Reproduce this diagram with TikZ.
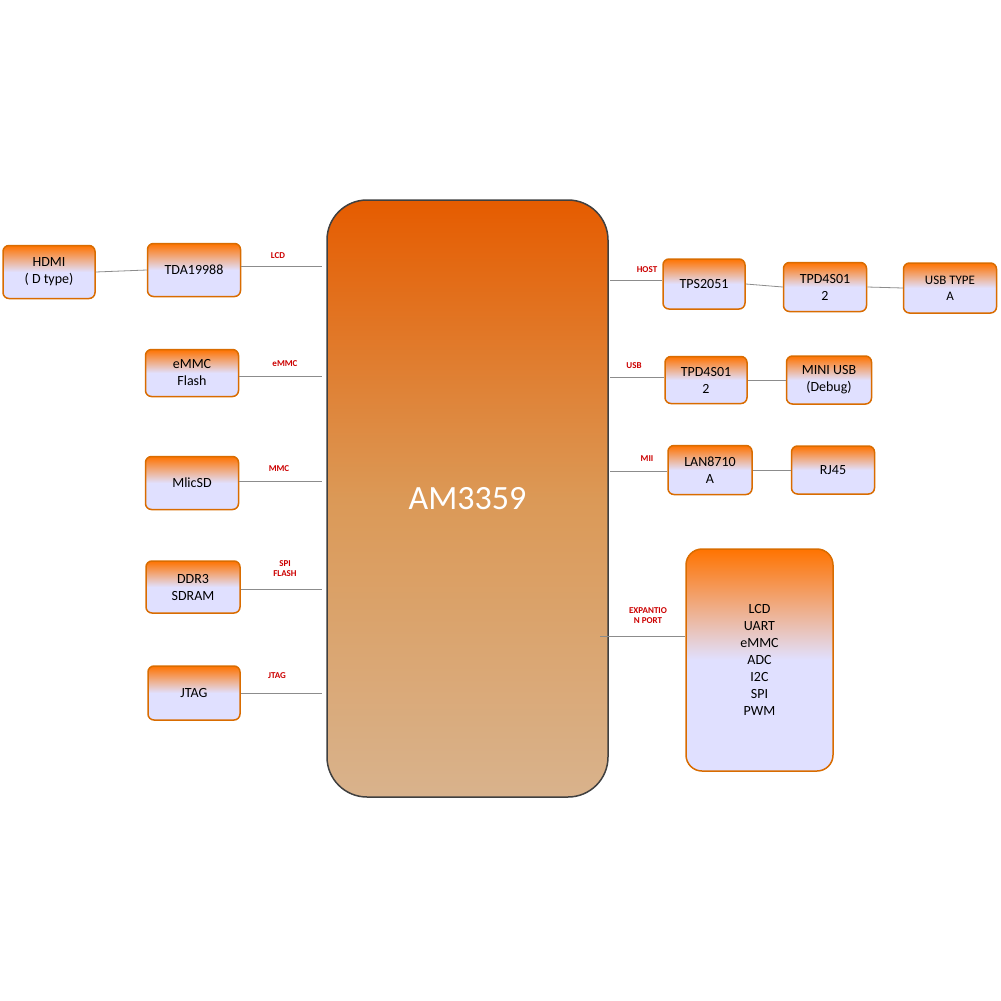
\documentclass[tikz,border=0pt]{standalone}
\usepackage{fontspec}
\setmainfont{Carlito}
\begin{document}
\begin{tikzpicture}[x=1pt,y=-1pt,
 box/.style={draw=orange!85!black,line width=1.5pt,rounded corners=6pt,top color=orange!90!red,bottom color=blue!12!white,middle color=blue!12!white,align=center,font=\fontsize{14}{17}\selectfont,inner sep=0pt},
 lnk/.style={draw=black!45,line width=0.8pt},
 lab/.style={text=red!80!black,font=\bfseries\fontsize{9}{10}\selectfont,align=center}]
\useasboundingbox (0,0) rectangle (1001,1001);
\fill[white] (0,0) rectangle (1001,1001);
\node[draw=black!75,line width=1.5pt,rounded corners=40pt,top color=orange!80!red!90!black,bottom color=brown!60!white,middle color=brown!70!orange!80!white,minimum width=281pt,minimum height=597pt,text=white,font=\fontsize{34}{40}\selectfont] (am) at (467.5,498.5) {AM3359};
\node[box,minimum width=92pt,minimum height=53pt] (hdmi) at (49,272) {HDMI\\( D type)};
\node[box,minimum width=93pt,minimum height=53pt] (tda) at (194,270) {TDA19988};
\node[box,minimum width=93pt,minimum height=47pt] (emmc) at (192,373) {eMMC\\Flash};
\node[box,minimum width=93pt,minimum height=53pt] (sd) at (192,483) {MlicSD};
\node[box,minimum width=94pt,minimum height=52pt] (ddr) at (193,587) {DDR3\\SDRAM};
\node[box,minimum width=92pt,minimum height=54pt] (jtag) at (194,693) {JTAG};
\node[box,minimum width=82pt,minimum height=50pt] (tps) at (704,284) {TPS2051};
\node[box,minimum width=83pt,minimum height=49pt] (tpd1) at (825,287) {TPD4S01\\2};
\node[box,minimum width=93pt,minimum height=50pt,font=\fontsize{13}{16}\selectfont] (usba) at (950,288) {USB TYPE\\A};
\node[box,minimum width=82pt,minimum height=47pt] (tpd2) at (706,380) {TPD4S01\\2};
\node[box,minimum width=85pt,minimum height=48pt] (mini) at (829,380) {MINI USB\\(Debug)};
\node[box,minimum width=84pt,minimum height=49pt] (lan) at (710,470) {LAN8710\\A};
\node[box,minimum width=83pt,minimum height=48pt] (rj) at (833,470) {RJ45};
\node[box,minimum width=147pt,minimum height=222pt,rounded corners=16pt,middle color=blue!12!white] (exp) at (759.5,660) {LCD\\UART\\eMMC\\ADC\\I2C\\SPI\\PWM};
\coordinate (l1) at (322,266); \coordinate (l2) at (322,376); \coordinate (l3) at (322,481);
\coordinate (l4) at (322,589); \coordinate (l5) at (322,693);
\coordinate (r1) at (610,280); \coordinate (r2) at (610,377); \coordinate (r3) at (610,471); \coordinate (r4) at (600,636);
\draw[lnk] (hdmi.east) -- (tda.west);
\draw[lnk] (tda.east|-l1) -- (l1); \draw[lnk] (emmc.east|-l2) -- (l2); \draw[lnk] (sd.east|-l3) -- (l3);
\draw[lnk] (ddr.east|-l4) -- (l4); \draw[lnk] (jtag.east|-l5) -- (l5);
\draw[lnk] (r1) -- (tps.west|-r1); \draw[lnk] (r2) -- (tpd2.west|-r2); \draw[lnk] (r3) -- (lan.west|-r3); \draw[lnk] (r4) -- (exp.west|-r4);
\draw[lnk] (tps.east) -- (tpd1.west); \draw[lnk] (tpd1.east) -- (usba.west);
\draw[lnk] (tpd2.east) -- (mini.west); \draw[lnk] (lan.east) -- (rj.west);
\node[lab] at (278,256) {LCD}; \node[lab] at (285,364) {eMMC}; \node[lab] at (279,469) {MMC};
\node[lab] at (285,569) {SPI\\FLASH}; \node[lab] at (277,676) {JTAG};
\node[lab] at (647,270) {HOST}; \node[lab] at (634,366) {USB}; \node[lab] at (647,459) {MII};
\node[lab] at (648,616) {EXPANTIO\\N PORT};
\end{tikzpicture}
\end{document}
